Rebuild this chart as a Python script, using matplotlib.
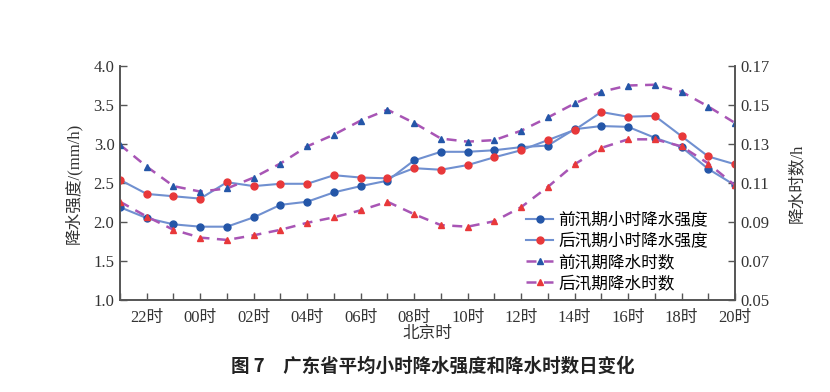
import matplotlib
matplotlib.use("Agg")
import matplotlib.pyplot as plt
from matplotlib.ticker import MultipleLocator, FixedLocator

plt.rcParams['font.family'] = ['Liberation Serif', 'Noto Sans CJK SC']

hours = [21, 22, 23, 0, 1, 2, 3, 4, 5, 6, 7, 8, 9, 10, 11, 12, 13, 14, 15, 16, 17, 18, 19, 20]
tick_labels = ["22时", "00时", "02时", "04时", "06时", "08时", "10时", "12时", "14时", "16时", "18时", "20时"]

pre_intensity = [2.19, 2.05, 1.97, 1.94, 1.94, 2.06, 2.22, 2.26, 2.38, 2.46, 2.53, 2.79,
                 2.90, 2.90, 2.92, 2.96, 2.98, 3.19, 3.23, 3.22, 3.08, 2.96, 2.68, 2.47]
post_intensity = [2.54, 2.36, 2.33, 2.30, 2.51, 2.46, 2.49, 2.49, 2.60, 2.57, 2.56, 2.69,
                  2.67, 2.73, 2.83, 2.92, 3.05, 3.18, 3.41, 3.35, 3.36, 3.10, 2.84, 2.74]
pre_hours = [0.1296, 0.1184, 0.1084, 0.1056, 0.1072, 0.1128, 0.1200, 0.1288, 0.1348, 0.1420,
             0.1476, 0.1408, 0.1328, 0.1312, 0.1320, 0.1368, 0.1436, 0.1508, 0.1568, 0.1600,
             0.1604, 0.1568, 0.1492, 0.1408]
post_hours = [0.1004, 0.0928, 0.0860, 0.0820, 0.0808, 0.0832, 0.0860, 0.0896, 0.0924, 0.0960,
              0.1004, 0.0940, 0.0884, 0.0876, 0.0904, 0.0976, 0.1080, 0.1196, 0.1280, 0.1324,
              0.1324, 0.1288, 0.1200, 0.1088]

x = list(range(len(hours)))

fig = plt.figure(figsize=(8.3, 3.92), dpi=100)
ax = fig.add_axes([0.1446, 0.2347, 0.741, 0.5969])
ax2 = ax.twinx()

line_c = '#7090d0'
dash_c = '#a855b5'
blue = '#2456a8'
red = '#e8383a'

l1, = ax.plot(x, pre_intensity, '-', color=line_c, lw=1.5, marker='o', ms=5,
              mfc=blue, mec=blue, label='前汛期小时降水强度', zorder=3)
l2, = ax.plot(x, post_intensity, '-', color=line_c, lw=1.5, marker='o', ms=5,
              mfc=red, mec=red, label='后汛期小时降水强度', zorder=3)
l3, = ax2.plot(x, pre_hours, '--', color=dash_c, lw=1.8, dashes=(4, 3), marker='^', ms=5,
               mfc=blue, mec=blue, label='前汛期降水时数')
l4, = ax2.plot(x, post_hours, '--', color=dash_c, lw=1.8, dashes=(4, 3), marker='^', ms=5,
               mfc=red, mec=red, label='后汛期降水时数')

ax.set_xlim(0, 23)
ax.set_ylim(1.0, 4.0)
ax2.set_ylim(0.05, 0.17)
ax.yaxis.set_major_locator(MultipleLocator(0.5))
ax.set_yticklabels([f"{v:.1f}" for v in ax.get_yticks()])
r_ticks = [0.05, 0.07, 0.09, 0.11, 0.13, 0.15, 0.17]
ax2.set_yticks(r_ticks)
ax2.set_yticklabels([f"{v:.2f}" for v in r_ticks])

ax.xaxis.set_major_locator(FixedLocator([hours.index(h) for h in [22, 0, 2, 4, 6, 8, 10, 12, 14, 16, 18, 20]]))
ax.set_xticklabels(tick_labels)
ax.xaxis.set_minor_locator(FixedLocator(x))

spine_c = '#555555'
for a in (ax, ax2):
    a.spines['top'].set_visible(False)
    for s in a.spines.values():
        s.set_color(spine_c)
        s.set_linewidth(1.2)
    a.tick_params(direction='in', color=spine_c, labelsize=12, labelcolor='#333333', length=5, width=1)
ax.tick_params(which='minor', direction='in', color=spine_c, length=5, width=1)
ax.tick_params(axis='x', pad=7)
ax.tick_params(axis='y', pad=4)

ax.set_ylabel('降水强度/(mm/h)', fontsize=12, color='#333333', labelpad=8)
ax2.set_ylabel('降水时数/h', fontsize=12, color='#333333', labelpad=14)
ax.set_xlabel('北京时', fontsize=12, color='#333333', labelpad=0)

ax.legend(handles=[l1, l2, l3, l4], loc='lower right', bbox_to_anchor=(0.98, -0.03),
          frameon=False, labelspacing=0.25, handlelength=1.6, handletextpad=0.3,
          prop={'family': ['Noto Sans CJK SC'], 'size': 12})

fig.text(0.521, 1 - 366 / 392, '图 7　广东省平均小时降水强度和降水时数日变化', ha='center', va='center',
         fontsize=13.3, fontweight='bold', color='#222222', family=['Noto Sans CJK SC'])

fig.savefig('out.png', dpi=100)
